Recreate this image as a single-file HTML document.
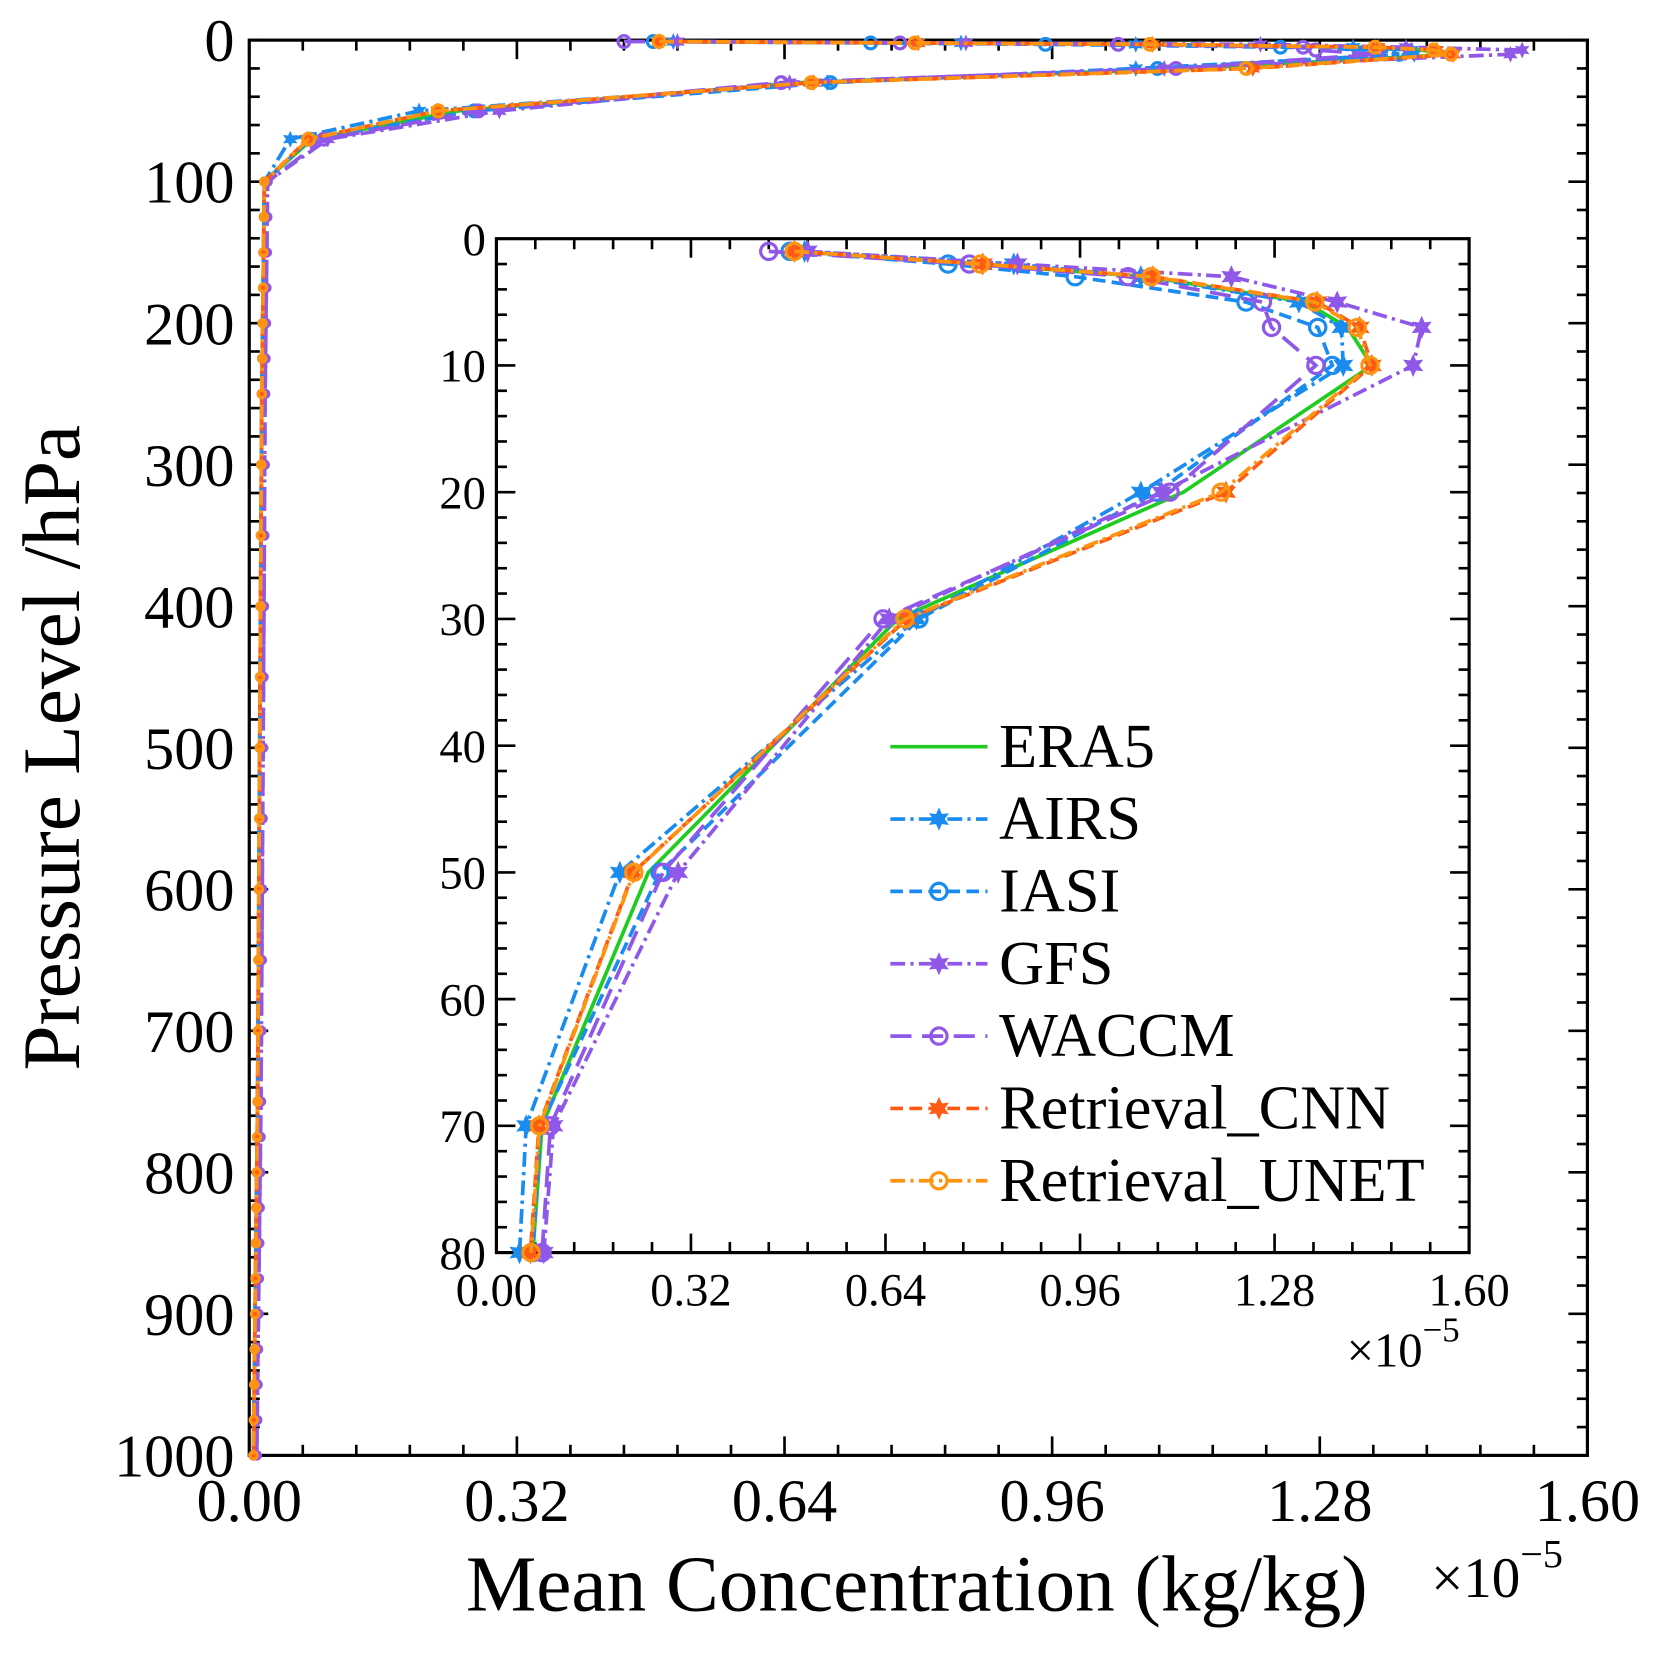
<!DOCTYPE html>
<html><head><meta charset="utf-8"><style>
html,body{margin:0;padding:0;background:#fff;}
svg{display:block;}
text{font-family:"Liberation Serif","DejaVu Serif",serif;fill:#000;}
</style></head><body>
<svg id="s" width="1655" height="1655" viewBox="0 0 1567 1567" xmlns="http://www.w3.org/2000/svg"></svg>
<script>
const S=document.getElementById('s');let h='';
const main={l:236,r:1503,t:38,b:1378,xmax:1.6,ymax:1000};
const ins={l:470,r:1391,t:226,b:1186,xmax:1.6,ymax:80};
function X(a,v){return a.l+(a.r-a.l)*v/a.xmax;}
function Y(a,p){return a.t+(a.b-a.t)*p/a.ymax;}
function axes(a,fs,ystep,xoff,yoff){
  h+=`<rect x="${a.l}" y="${a.t}" width="${a.r-a.l}" height="${a.b-a.t}" fill="#fff" stroke="#000" stroke-width="3"/>`;
  for(let i=0;i<=25;i++){const v=i*0.064;const x=X(a,v);const L=i%5==0?18:10;
    h+=`<line x1="${x}" y1="${a.b}" x2="${x}" y2="${a.b-L}" stroke="#000" stroke-width="2.5"/><line x1="${x}" y1="${a.t}" x2="${x}" y2="${a.t+L}" stroke="#000" stroke-width="2.5"/>`;
    if(i%5==0) h+=`<text x="${x}" y="${a.b+xoff}" font-size="${fs}" text-anchor="middle">${(v).toFixed(2)}</text>`;}
  const n=a.ymax/ystep*5;
  for(let i=0;i<=n;i++){const p=i*ystep/5;const y=Y(a,p);const L=i%5==0?18:10;
    h+=`<line x1="${a.l}" y1="${y}" x2="${a.l+L}" y2="${y}" stroke="#000" stroke-width="2.5"/><line x1="${a.r}" y1="${y}" x2="${a.r-L}" y2="${y}" stroke="#000" stroke-width="2.5"/>`;
    if(i%5==0) h+=`<text x="${a.l-yoff}" y="${y+fs*0.35}" font-size="${fs}" text-anchor="end">${Math.round(p)}</text>`;}
}
const P=[1,2,3,5,7,10,20,30,50,70,80];
const deep=[100,125,150,175,200,225,250,300,350,400,450,500,550,600,650,700,750,775,800,825,850,875,900,925,950,975,1000];
function tail(){return deep.map((p,i)=>Math.max(0.003,0.018-0.0005*i));}
const S_=[
 {n:'ERA5',c:'#1fcc1f',d:'',m:null,v:[0.49,0.79,1.07,1.33,1.40,1.44,1.13,0.66,0.25,0.075,0.06]},
 {n:'AIRS',c:'#1a8cf0',d:'14 5 3 5',m:'star',v:[0.507,0.851,1.06,1.32,1.39,1.393,1.06,0.691,0.203,0.049,0.038]},
 {n:'IASI',c:'#1a8cf0',d:'12 6',m:'circ',v:[0.483,0.743,0.952,1.233,1.351,1.375,1.086,0.695,0.269,0.073,0.06]},
 {n:'GFS',c:'#9058e8',d:'14 5 3 5',m:'star',v:[0.512,0.857,1.209,1.383,1.522,1.508,1.094,0.646,0.299,0.094,0.078]},
 {n:'WACCM',c:'#9058e8',d:'20 10',m:'circ',v:[0.448,0.778,1.039,1.26,1.275,1.348,1.108,0.636,0.274,0.089,0.075]},
 {n:'Retrieval_CNN',c:'#ff5a14',d:'12 6',m:'star',v:[0.49,0.80,1.08,1.35,1.42,1.44,1.20,0.675,0.225,0.07,0.056]},
 {n:'Retrieval_UNET',c:'#ff9410',d:'14 5 3 5',m:'circ',v:[0.49,0.796,1.077,1.346,1.416,1.437,1.192,0.672,0.226,0.071,0.057]},
];
function star(x,y,r,c){let pts=[];for(let i=0;i<12;i++){const a=Math.PI/6*i-Math.PI/2;const rr=i%2?r*0.5:r;pts.push((x+rr*Math.cos(a)).toFixed(1)+','+(y+rr*Math.sin(a)).toFixed(1));}
  return `<polygon points="${pts.join(' ')}" fill="${c}"/>`;}
function mk(m,x,y,r,c){if(m=='star')return star(x,y,r,c);if(m=='circ')return `<circle cx="${x}" cy="${y}" r="${r*0.7}" fill="none" stroke="${c}" stroke-width="3"/>`;return '';}
function series(a,s,ps,vs,r,lw,rs){
  const pts=ps.map((p,i)=>[X(a,vs[i]),Y(a,p)]);
  h+=`<polyline points="${pts.map(q=>q[0].toFixed(1)+','+q[1].toFixed(1)).join(' ')}" fill="none" stroke="${s.c}" stroke-width="${lw}" stroke-dasharray="${s.d}"/>`;
  pts.forEach((q,i)=>h+=mk(s.m,q[0],q[1],rs&&i>=10?rs:r,s.c));
}
axes(main,57,100,62,14);
const mp=P.slice(0,10).concat(deep);
S_.forEach(s=>{const tv=tail();series(main,s,mp,s.v.slice(0,10).concat(tv.map(t=>t+(s.n=='GFS'||s.n=='WACCM'?0.004:0))),8,3.5,5);});
h+=`<text x="868" y="1525" font-size="75" text-anchor="middle">Mean Concentration (kg/kg)</text>`;
h+=`<text x="1355" y="1512" font-size="54">×10<tspan dy="-28" font-size="38">−5</tspan></text>`;
h+=`<text transform="translate(75,708) rotate(-90)" font-size="77" text-anchor="middle">Pressure Level /hPa</text>`;
axes(ins,44,10,50,10);
S_.forEach(s=>series(ins,s,P,s.v,11,3.5));
h+=`<text x="1275" y="1294" font-size="46">×10<tspan dy="-24" font-size="33">−5</tspan></text>`;
S_.forEach((s,i)=>{const y=707+i*68.5;h+=`<line x1="843" y1="${y}" x2="935" y2="${y}" stroke="${s.c}" stroke-width="3.5" stroke-dasharray="${s.d}"/>`+mk(s.m,889,y,11,s.c)+`<text x="946" y="${y+19}" font-size="59">${s.n}</text>`;});
S.innerHTML=h;
</script>
</body></html>
